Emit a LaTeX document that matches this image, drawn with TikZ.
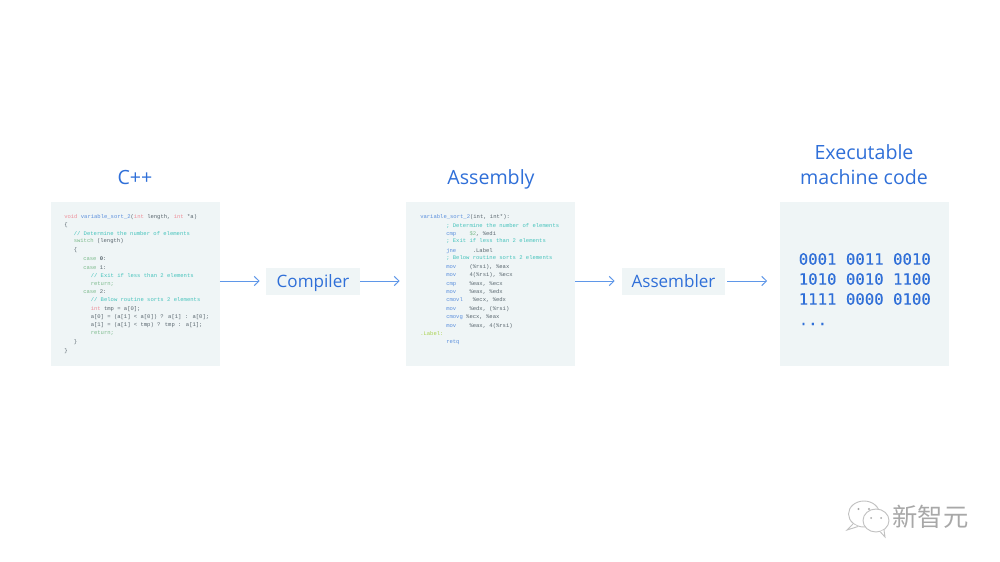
\documentclass[tikz,border=0pt]{standalone}
\usepackage{fontspec}
\setmainfont{Open Sans}
\newfontfamily\codefont{Liberation Mono}
\newfontfamily\binfont[FakeBold=0.3]{DejaVu Sans Mono}
\newfontfamily\cjkfont{Noto Sans CJK SC}
\usetikzlibrary{arrows.meta}
\definecolor{panel}{HTML}{EFF5F6}
\definecolor{headblue}{HTML}{2F6FD8}
\definecolor{arrowblue}{HTML}{5F97E8}
\definecolor{ckw}{HTML}{EE8E99}
\definecolor{cfn}{HTML}{5B8FDD}
\definecolor{ctxt}{HTML}{59666E}
\definecolor{ccom}{HTML}{45C3BC}
\definecolor{cgrn}{HTML}{7DBB8D}
\definecolor{clab}{HTML}{A9D24F}
\definecolor{wm}{HTML}{A8A8A8}
\newcommand{\kw}[1]{\textcolor{ckw}{#1}}
\newcommand{\fn}[1]{\textcolor{cfn}{#1}}
\newcommand{\com}[1]{\textcolor{ccom}{#1}}
\newcommand{\grn}[1]{\textcolor{cgrn}{#1}}
\newcommand{\lab}[1]{\textcolor{clab}{#1}}
\tikzset{
  x=0.75pt,y=-0.75pt,
  panelbox/.style={fill=panel,draw=none,minimum width=126.75pt,minimum height=123pt,inner sep=0pt},
  stagebox/.style={fill=panel,draw=none,inner sep=0pt,text=headblue,text height=11pt,text depth=2pt,font=\fontsize{12.8}{14}\selectfont},
  heading/.style={text=headblue,font=\fontsize{14.7}{18.75}\selectfont,align=center,inner sep=0pt},
  codeline/.style={anchor=west,inner sep=0pt,text=ctxt,yshift=-0.5pt,font=\codefont\fontsize{4.15}{5}\selectfont},
  binline/.style={anchor=west,inner sep=0pt,text=headblue,font=\binfont\fontsize{11.75}{14}\selectfont},
  flow/.style={draw=arrowblue,line width=0.75pt,-{Straight Barb[length=3.6pt,width=7pt,line width=0.75pt]}},
  bubble/.style={draw=wm!70,line width=0.7pt,fill=white}
}
\begin{document}
\begin{tikzpicture}
\useasboundingbox (0,0) rectangle (1000,561);
% panels
\node[panelbox] (cpp) at (135,283.5) {};
\node[panelbox] (asm) at (490.5,283.5) {};
\node[panelbox] (bin) at (864,283.5) {};
% stages
\node[stagebox,minimum width=70.5pt,minimum height=20.25pt] (compiler) at (313,281) {Compiler};
\node[stagebox,minimum width=77.25pt,minimum height=20.25pt] (assembler) at (673.5,281) {Assembler};
% headings
\node[heading,anchor=base] (h1) at (135,184) {C++};
\node[heading,anchor=base] (h2) at (491,184) {Assembly};
\node[heading] (h3) at (864,165) {Executable\\machine code};
% connectors
\draw[flow,shorten >=4.5pt] (cpp.east |- compiler.west) -- (compiler.west);
\draw[flow,shorten >=4.5pt] (compiler.east) -- (asm.west |- compiler.east);
\draw[flow,shorten >=5.25pt] (asm.east |- assembler.west) -- (assembler.west);
\draw[flow,shorten <=1.5pt,shorten >=9pt] (assembler.east) -- (bin.west |- assembler.east);
% C++ code
\node[codeline] (c1) at (64,216) {\kw{void} \fn{variable\_sort\_2}(\kw{int} length, \kw{int} *a)};
\node[codeline] (c2) at (64,224.7) {\{};
\node[codeline] (c3) at (73.5,233) {\com{// Determine the number of elements}};
\node[codeline] (c4) at (73.5,240.7) {\grn{switch} (length)};
\node[codeline] (c5) at (73.5,249.3) {\{};
\node[codeline] (c6) at (83,257.7) {\grn{case} \textbf{0}:};
\node[codeline] (c7) at (83,266.7) {\grn{case} 1:};
\node[codeline] (c8) at (90.5,274.7) {\com{// Exit if less than 2 elements}};
\node[codeline] (c9) at (90.5,283.3) {\grn{return;}};
\node[codeline] (c10) at (83,291.3) {\grn{case} 2:};
\node[codeline] (c11) at (90.5,299.3) {\com{// Below routine sorts 2 elements}};
\node[codeline] (c12) at (90.5,308) {\kw{int} tmp = a[0];};
\node[codeline] (c13) at (90.5,316) {a[0] = (a[1] < a[0]) ? a[1] : a[0];};
\node[codeline] (c14) at (90.5,324.7) {a[1] = (a[1] < tmp) ? tmp : a[1];};
\node[codeline] (c15) at (90.5,332.7) {\grn{return;}};
\node[codeline] (c16) at (73.5,341.7) {\}};
\node[codeline] (c17) at (64,350) {\}};
% Assembly code
\node[codeline] (a1) at (420,216) {\fn{variable\_sort\_2}(int, int*):};
\node[codeline] (a2) at (446,225.3) {\com{; Determine the number of elements}};
\node[codeline] (a3) at (446,233) {\fn{cmp}\ \ \ \ \grn{\$2}, \%edi};
\node[codeline] (a4) at (446,240.7) {\com{; Exit if less than 2 elements}};
\node[codeline] (a5) at (446,250) {\fn{jne}\ \ \ \ \ .Label};
\node[codeline] (a6) at (446,257.7) {\com{; Below routine sorts 2 elements}};
\node[codeline] (a7) at (446,266.7) {\fn{mov}\ \ \ \ (\%rsi), \%eax};
\node[codeline] (a8) at (446,274.7) {\fn{mov}\ \ \ \ 4(\%rsi), \%ecx};
\node[codeline] (a9) at (446,283.3) {\fn{cmp}\ \ \ \ \%eax, \%ecx};
\node[codeline] (a10) at (446,291.3) {\fn{mov}\ \ \ \ \%eax, \%edx};
\node[codeline] (a11) at (446,299.3) {\fn{cmovl}\ \ \ \%ecx, \%edx};
\node[codeline] (a12) at (446,308.3) {\fn{mov}\ \ \ \ \%edx, (\%rsi)};
\node[codeline] (a13) at (446,316.3) {\fn{cmovg} \%ecx, \%eax};
\node[codeline] (a14) at (446,325) {\fn{mov}\ \ \ \ \%eax, 4(\%rsi)};
\node[codeline] (a15) at (420,333.3) {\lab{.Label:}};
\node[codeline] (a16) at (446,342) {\fn{retq}};
% Machine code
\node[binline] (b1) at (798.5,259) {0001 0011 0010};
\node[binline] (b2) at (798.5,279) {1010 0010 1100};
\node[binline] (b3) at (798.5,299) {1111 0000 0100};
\node[binline] (b4) at (798.5,324) {...};
% watermark
\draw[bubble] (864,514) ellipse [x radius=15.5,y radius=13];
\draw[bubble] (853,524) -- (847,530) -- (858,526.5);
\fill[wm] (858.5,509) circle (1.2) (869,509) circle (1.2);
\draw[bubble] (876,520.5) ellipse [x radius=13,y radius=11.5];
\draw[bubble] (880,531.5) -- (885,537) -- (884,530);
\fill[wm] (871,518) circle (1) (881,518) circle (1);
\node[inner sep=0pt,text=wm,font=\cjkfont\fontsize{19}{20}\selectfont] (wmtext) at (930.5,516.5) {新智元};
\end{tikzpicture}
\end{document}
